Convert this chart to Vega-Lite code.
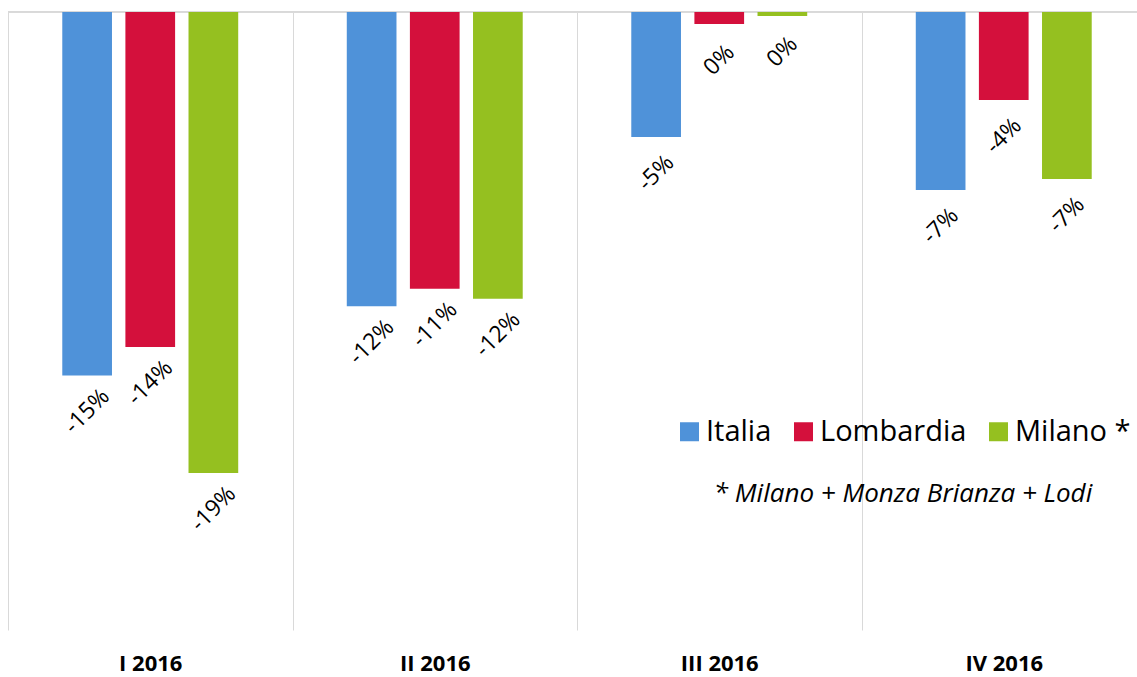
{
  "$schema": "https://vega.github.io/schema/vega-lite/v6.json",
  "width": 1129,
  "height": 618,
  "autosize": {"type": "none"},
  "padding": {"left": 8, "top": 12, "right": 0, "bottom": 47},
  "config": {"view": {"stroke": null}, "font": "Open Sans"},
  "data": {
    "values": [
      {"quarter": "I 2016", "area": "Italia", "value": -14.7, "label": "-15%"},
      {"quarter": "I 2016", "area": "Lombardia", "value": -13.55, "label": "-14%"},
      {"quarter": "I 2016", "area": "Milano *", "value": -18.65, "label": "-19%"},
      {"quarter": "II 2016", "area": "Italia", "value": -11.9, "label": "-12%"},
      {"quarter": "II 2016", "area": "Lombardia", "value": -11.2, "label": "-11%"},
      {"quarter": "II 2016", "area": "Milano *", "value": -11.6, "label": "-12%"},
      {"quarter": "III 2016", "area": "Italia", "value": -5.06, "label": "-5%"},
      {"quarter": "III 2016", "area": "Lombardia", "value": -0.49, "label": "0%"},
      {"quarter": "III 2016", "area": "Milano *", "value": -0.16, "label": "0%"},
      {"quarter": "IV 2016", "area": "Italia", "value": -7.2, "label": "-7%"},
      {"quarter": "IV 2016", "area": "Lombardia", "value": -3.56, "label": "-4%"},
      {"quarter": "IV 2016", "area": "Milano *", "value": -6.76, "label": "-7%"}
    ]
  },
  "layer": [
    {
      "mark": {"type": "rule", "color": "#d9d9d9", "strokeWidth": 1},
      "encoding": {"y": {"datum": 0, "type": "quantitative", "scale": {"domain": [-25, 0], "nice": false}, "axis": null}}
    },
    {
      "mark": {"type": "bar"},
      "encoding": {
        "x": {
          "field": "quarter", "type": "nominal",
          "sort": ["I 2016", "II 2016", "III 2016", "IV 2016"],
          "scale": {"paddingInner": 0, "paddingOuter": 0, "range": [0, 1138]},
          "axis": {"title": null, "orient": "bottom", "domain": false, "ticks": false, "grid": true, "tickBand": "extent", "gridColor": "#d9d9d9", "gridWidth": 1, "labelFontSize": 22, "labelFontWeight": "bold", "labelColor": "#000000", "labelPadding": 23, "labelAngle": 0}
        },
        "xOffset": {"field": "area", "type": "nominal", "sort": ["Italia", "Lombardia", "Milano *"], "scale": {"paddingInner": 0.2126, "paddingOuter": 0.86}},
        "y": {"field": "value", "type": "quantitative", "scale": {"domain": [-25, 0], "nice": false}, "axis": null},
        "color": {
          "field": "area", "type": "nominal",
          "sort": ["Italia", "Lombardia", "Milano *"],
          "scale": {"domain": ["Italia", "Lombardia", "Milano *"], "range": ["#4F92D9", "#D4103C", "#95C020"]},
          "legend": {
            "orient": "none", "legendX": 667, "legendY": 405, "direction": "horizontal",
            "padding": 0, "symbolType": "square", "symbolSize": 361, "symbolStrokeWidth": 0, "symbolOpacity": 1,
            "labelFontSize": 29, "labelColor": "#000000", "labelOffset": 2, "columnPadding": 17, "labelLimit": 0,
            "title": "* Milano + Monza Brianza + Lodi", "titleOrient": "bottom", "titleAnchor": "middle", "titleLimit": 0,
            "titleFontStyle": "italic", "titleFontWeight": "normal", "titleFontSize": 26, "titleColor": "#000000", "titlePadding": 34
          }
        }
      }
    },
    {
      "mark": {"type": "text", "angle": -45, "yOffset": 36, "fontSize": 23, "color": "#000000", "align": "center", "baseline": "middle"},
      "encoding": {
        "x": {"field": "quarter", "type": "nominal", "sort": ["I 2016", "II 2016", "III 2016", "IV 2016"]},
        "xOffset": {"field": "area", "type": "nominal", "sort": ["Italia", "Lombardia", "Milano *"]},
        "y": {"field": "value", "type": "quantitative"},
        "text": {"field": "label"}
      }
    }
  ]
}
